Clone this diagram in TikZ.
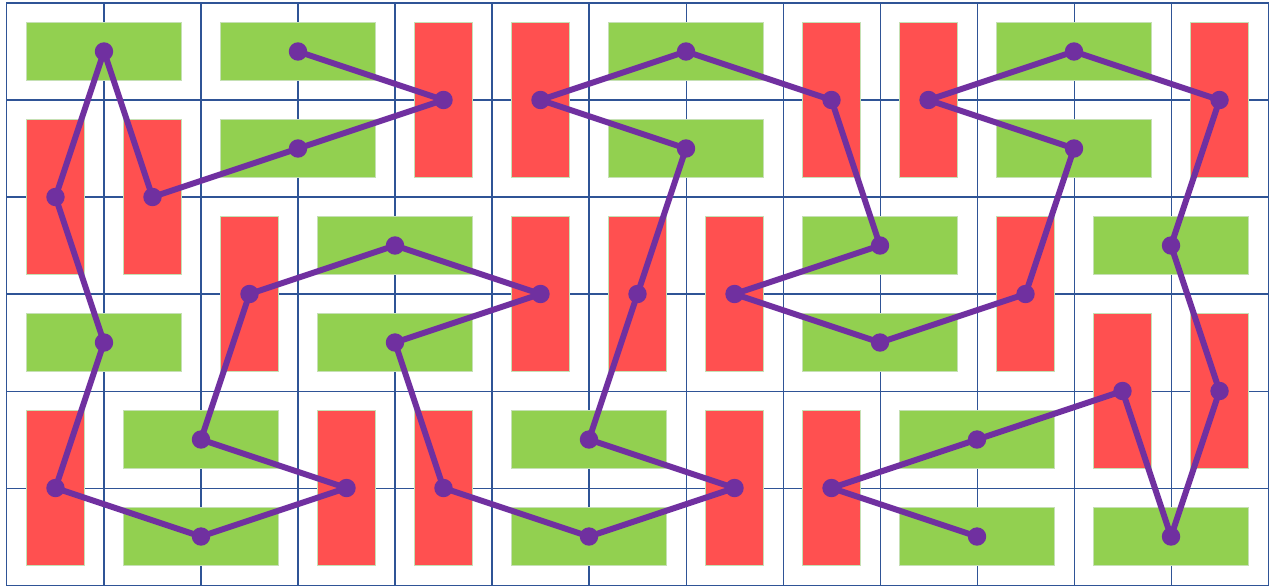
\documentclass[tikz,border=0pt]{standalone}
\usepackage{xcolor}
\definecolor{gridblue}{HTML}{2F5496}
\definecolor{dgreen}{HTML}{92D050}
\definecolor{dred}{HTML}{FF5050}
\definecolor{dedge}{HTML}{C5E0B4}
\definecolor{dpurple}{HTML}{7030A0}
\begin{document}
\begin{tikzpicture}[x=1cm,y=-1cm,
  cellbox/.style={draw=gridblue,line width=0.3pt},
  hdom/.style={rectangle,fill=dgreen,draw=dedge,line width=0.3pt,minimum width=1.6cm,minimum height=0.6cm,inner sep=0pt},
  vdom/.style={rectangle,fill=dred,draw=dedge,line width=0.3pt,minimum width=0.6cm,minimum height=1.6cm,inner sep=0pt},
  link/.style={draw=dpurple,line width=1.75pt,line join=round},
  dot/.style={circle,fill=dpurple,minimum size=0.19cm,inner sep=0pt}]
\useasboundingbox (-0.072,-0.031) rectangle (13.01,6.021);
% horizontal (green) dominoes
\foreach \c/\r in {0/0,2/0,6/0,10/0,2/1,6/1,10/1,3/2,8/2,11/2,0/3,3/3,8/3,1/4,5/4,9/4,1/5,5/5,9/5,11/5}{
  \draw[cellbox] (\c,\r) rectangle ++(2,1);
  \draw[cellbox] (\c+1,\r) -- ++(0,1);
  \node[hdom] (h\c r\r) at (\c+1,\r+0.5) {};
}
% vertical (red) dominoes
\foreach \c/\r in {4/0,5/0,8/0,9/0,12/0,0/1,1/1,2/2,5/2,6/2,7/2,10/2,11/3,12/3,0/4,3/4,4/4,7/4,8/4}{
  \draw[cellbox] (\c,\r) rectangle ++(1,2);
  \draw[cellbox] (\c,\r+1) -- ++(1,0);
  \node[vdom] (v\c r\r) at (\c+0.5,\r+1) {};
}
\draw[link] (h2r0.center) -- (v4r0.center) -- (h2r1.center) -- (v1r1.center) -- (h0r0.center)
  -- (v0r1.center) -- (h0r3.center) -- (v0r4.center) -- (h1r5.center) -- (v3r4.center)
  -- (h1r4.center) -- (v2r2.center) -- (h3r2.center) -- (v5r2.center) -- (h3r3.center)
  -- (v4r4.center) -- (h5r5.center) -- (v7r4.center) -- (h5r4.center) -- (v6r2.center)
  -- (h6r1.center) -- (v5r0.center) -- (h6r0.center) -- (v8r0.center) -- (h8r2.center)
  -- (v7r2.center) -- (h8r3.center) -- (v10r2.center) -- (h10r1.center) -- (v9r0.center)
  -- (h10r0.center) -- (v12r0.center) -- (h11r2.center) -- (v12r3.center) -- (h11r5.center)
  -- (v11r3.center) -- (h9r4.center) -- (v8r4.center) -- (h9r5.center);
\foreach \n in {h0r0,h2r0,h6r0,h10r0,h2r1,h6r1,h10r1,h3r2,h8r2,h11r2,h0r3,h3r3,h8r3,h1r4,h5r4,h9r4,h1r5,h5r5,h9r5,h11r5,
  v4r0,v5r0,v8r0,v9r0,v12r0,v0r1,v1r1,v2r2,v5r2,v6r2,v7r2,v10r2,v11r3,v12r3,v0r4,v3r4,v4r4,v7r4,v8r4}{
  \node[dot] (p\n) at (\n.center) {};
}
\end{tikzpicture}
\end{document}
